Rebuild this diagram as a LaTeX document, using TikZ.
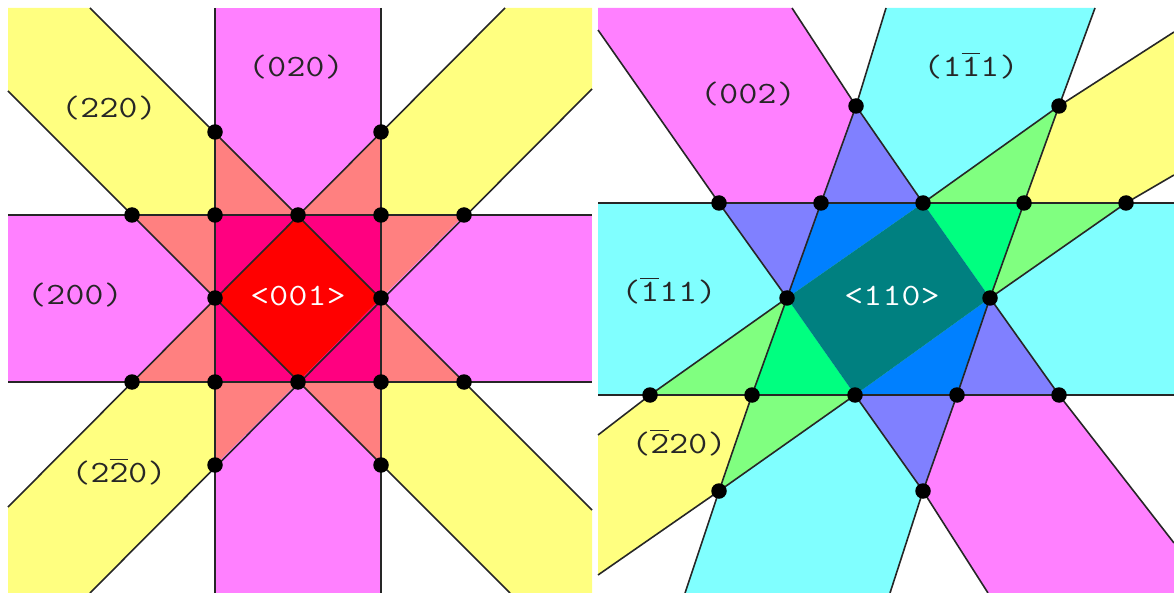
\documentclass[tikz,border=0pt]{standalone}
\usepackage{fontspec}
\setmonofont[FakeStretch=1.18,LetterSpace=1]{Latin Modern Mono}
\definecolor{magband}{HTML}{FF80FF}
\definecolor{cyanband}{HTML}{80FFFF}
\definecolor{yelband}{HTML}{FFFF80}
\definecolor{salmonzone}{HTML}{FF8080}
\definecolor{rosezone}{HTML}{FF0080}
\definecolor{lilaczone}{HTML}{8080FF}
\definecolor{limezone}{HTML}{80FF80}
\definecolor{bluezone}{HTML}{0080FF}
\definecolor{greenzone}{HTML}{00FF80}
\definecolor{tealzone}{HTML}{008080}
\newcommand{\ovbar}[1]{$\overline{\hbox{#1\rule{0pt}{0.72em}}}$}
\tikzset{
  edgeline/.style={draw=black!85, line width=1.6pt, line join=round},
  dot/.style={circle, fill=black, inner sep=0pt, minimum size=15.5pt},
  lbl/.style={font=\fontsize{31}{31}\ttfamily, inner sep=0pt, text=black!85},
  axislbl/.style={lbl, text=white}
}
\begin{document}
\begin{tikzpicture}[x=1pt, y=-1pt]
\useasboundingbox (0,0) rectangle (1174,593);
% left panel
\coordinate (t1) at (215,132);
\coordinate (t2) at (381,132);
\coordinate (p1) at (132,215);
\coordinate (p2) at (215,215);
\coordinate (p3) at (298,215);
\coordinate (p4) at (381,215);
\coordinate (p5) at (464,215);
\coordinate (m1) at (215,298);
\coordinate (m2) at (381,298);
\coordinate (q1) at (132,382);
\coordinate (q2) at (215,382);
\coordinate (q3) at (298,382);
\coordinate (q4) at (381,382);
\coordinate (q5) at (464,382);
\coordinate (b1) at (215,465);
\coordinate (b2) at (381,465);
\fill[yelband] (8,8) -- (90,8) -- (592,510) -- (592,593) -- (510,593) -- (8,91) -- cycle;
\fill[yelband] (505,8) -- (592,8) -- (592,89) -- (90,593) -- (8,593) -- (8,507) -- cycle;
\fill[magband] (215,8) rectangle (381,593);
\fill[magband] (8,215) rectangle (592,382);
\foreach \a/\b/\c in {t1/p3/p2, p3/t2/p4, p1/p2/m1, p4/p5/m2, m1/q2/q1, m2/q5/q4, q2/q3/b1, q3/q4/b2}
  \fill[salmonzone] (\a) -- (\b) -- (\c) -- cycle;
\foreach \a/\b/\c in {p2/p3/m1, p3/p4/m2, m1/q3/q2, m2/q4/q3}
  \fill[rosezone] (\a) -- (\b) -- (\c) -- cycle;
\fill[red] (p3) -- (m2) -- (q3) -- (m1) -- cycle;
\draw[edgeline] (215,8) -- (215,593);
\draw[edgeline] (381,8) -- (381,593);
\draw[edgeline] (8,215) -- (592,215);
\draw[edgeline] (8,382) -- (592,382);
\draw[edgeline] (90,8) -- (592,510);
\draw[edgeline] (8,91) -- (510,593);
\draw[edgeline] (505,8) -- (8,507);
\draw[edgeline] (592,89) -- (90,593);
\foreach \p in {t1,t2,p1,p2,p3,p4,p5,m1,m2,q1,q2,q3,q4,q5,b1,b2}
  \node[dot] (d\p) at (\p) {};
\node[lbl] (l020) at (296,67) {(020)};
\node[lbl] (l220) at (109,108) {(220)};
\node[lbl] (l200) at (75,295) {(200)};
\node[lbl] (l2b20) at (119,472) {(2\ovbar{2}0)};
\node[axislbl] (l001) at (298,296) {<001>};
% right panel
\coordinate (u1) at (856,106);
\coordinate (u2) at (1059,106);
\coordinate (a1) at (719,203);
\coordinate (a2) at (821,203);
\coordinate (a3) at (923,203);
\coordinate (a4) at (1024,203);
\coordinate (a5) at (1126,203);
\coordinate (c1) at (787,298);
\coordinate (c2) at (990,298);
\coordinate (e1) at (650,395);
\coordinate (e2) at (752,395);
\coordinate (e3) at (855,395);
\coordinate (e4) at (957,395);
\coordinate (e5) at (1059,395);
\coordinate (v1) at (719,491);
\coordinate (v2) at (923,491);
\fill[cyanband] (598,203) rectangle (1174,395);
\fill[magband] (598,8) -- (792,8) -- (u1) -- (a3) -- (c2) -- (e5) -- (1174,543) -- (1174,593) -- (988,593) -- (v2) -- (e3) -- (c1) -- (a1) -- (598,30) -- cycle;
\fill[yelband] (598,435) -- (e1) -- (c1) -- (a3) -- (u2) -- (1174,32) -- (1174,175) -- (a5) -- (c2) -- (e3) -- (v1) -- (598,575) -- cycle;
\fill[cyanband] (886,8) -- (1095,8) -- (u2) -- (a4) -- (c2) -- (e4) -- (v2) -- (890,593) -- (685,593) -- (v1) -- (e2) -- (c1) -- (a2) -- (u1) -- cycle;
\foreach \a/\b/\c in {u1/a3/a2, a1/a2/c1, c2/e4/e5, e3/e4/v2}
  \fill[lilaczone] (\a) -- (\b) -- (\c) -- cycle;
\foreach \a/\b/\c in {a3/u2/a4, a4/a5/c2, e1/e2/c1, e2/e3/v1}
  \fill[limezone] (\a) -- (\b) -- (\c) -- cycle;
\foreach \a/\b/\c in {a2/a3/c1, e3/e4/c2}
  \fill[bluezone] (\a) -- (\b) -- (\c) -- cycle;
\foreach \a/\b/\c in {a3/a4/c2, c1/e2/e3}
  \fill[greenzone] (\a) -- (\b) -- (\c) -- cycle;
\fill[tealzone] (a3) -- (c2) -- (e3) -- (c1) -- cycle;
\draw[edgeline] (598,203) -- (1174,203);
\draw[edgeline] (598,395) -- (1174,395);
\draw[edgeline] (598,30) -- (a1) -- (c1);
\draw[edgeline] (e3) -- (v2) -- (988,593);
\draw[edgeline] (792,8) -- (u1) -- (a3);
\draw[edgeline] (c2) -- (e5) -- (1174,543);
\draw[edgeline] (886,8) -- (u1) -- (a2) -- (c1) -- (e2) -- (v1) -- (685,593);
\draw[edgeline] (1095,8) -- (u2) -- (a4) -- (c2) -- (e4) -- (v2) -- (890,593);
\draw[edgeline] (598,435) -- (e1) -- (c1);
\draw[edgeline] (a3) -- (u2) -- (1174,32);
\draw[edgeline] (598,575) -- (v1) -- (e3);
\draw[edgeline] (c2) -- (a5) -- (1174,175);
\foreach \p in {u1,u2,a1,a2,a3,a4,a5,c1,c2,e1,e2,e3,e4,e5,v1,v2}
  \node[dot] (d\p) at (\p) {};
\node[lbl] (l002) at (748,94) {(002)};
\node[lbl] (l1b11) at (971,66) {(1\ovbar{1}1)};
\node[lbl] (lb111) at (669,291) {(\ovbar{1}11)};
\node[lbl] (lb220) at (679,443) {(\ovbar{2}20)};
\node[axislbl] (l110) at (892,296) {<110>};
\end{tikzpicture}
\end{document}
